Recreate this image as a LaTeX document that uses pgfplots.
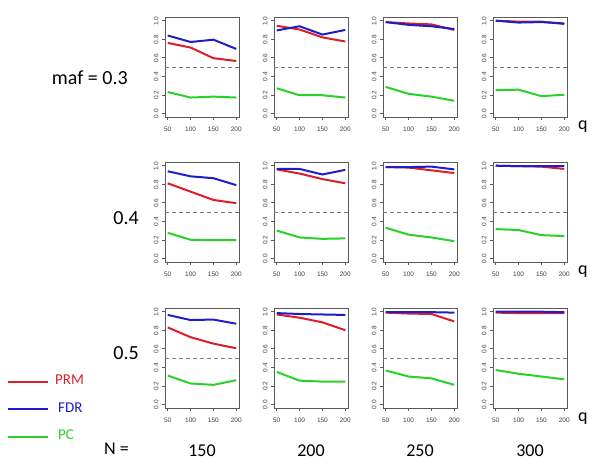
\documentclass[border=0pt]{standalone}
\usepackage{pgfplots}
\pgfplotsset{compat=1.18}
\usepackage{fontspec}
\setmainfont{Carlito}
\newfontfamily\tickfont{Liberation Sans}
\definecolor{prmred}{RGB}{220,30,40}
\definecolor{fdrblue}{RGB}{30,30,200}
\definecolor{pcgreen}{RGB}{40,210,40}
\definecolor{boxgray}{RGB}{90,90,90}
\pgfplotsset{panel/.style={
  width=74pt, height=100pt, scale only axis, anchor=south west,
  xmin=44, xmax=206, ymin=-0.04, ymax=1.04,
  xtick={50,100,150,200}, ytick={0,0.2,0.4,0.6,0.8,1.0},
  tick align=outside, xtick pos=bottom, ytick pos=left,
  major tick length=3pt,
  axis line style={boxgray, line width=0.6pt},
  tick style={boxgray, line width=0.5pt},
  /pgf/number format/assume math mode=true,
  ticklabel style={font=\tickfont\fontsize{6.5}{7.5}\selectfont, text=black!75},
  yticklabel style={rotate=90, anchor=south, xshift=-0.5pt, /pgf/number format/fixed, /pgf/number format/fixed zerofill, /pgf/number format/precision=1},
  xticklabel style={yshift=-3.5pt},
  clip=true,
}}
\newcommand\panel[5]{%
\begin{axis}[panel, at={(#1pt,#2pt)}]
\addplot[boxgray!80, dashed, dash pattern=on 4pt off 3pt, line width=0.8pt] coordinates {(44,0.5) (206,0.5)};
\addplot[prmred, line width=2pt] coordinates {#3};
\addplot[fdrblue, line width=2pt] coordinates {#4};
\addplot[pcgreen, line width=2pt] coordinates {#5};
\end{axis}}
\begin{document}
\begin{tikzpicture}
\path[use as bounding box] (0,0) rectangle (600pt,468pt);
% row 1 (maf = 0.3)
\panel{165}{351}{(50,0.76)(100,0.71)(150,0.595)(200,0.565)}{(50,0.84)(100,0.77)(150,0.795)(200,0.695)}{(50,0.23)(100,0.17)(150,0.18)(200,0.17)}
\panel{274}{351}{(50,0.945)(100,0.905)(150,0.82)(200,0.775)}{(50,0.895)(100,0.94)(150,0.85)(200,0.90)}{(50,0.27)(100,0.195)(150,0.195)(200,0.17)}
\panel{383}{351}{(50,0.985)(100,0.97)(150,0.96)(200,0.90)}{(50,0.985)(100,0.955)(150,0.94)(200,0.91)}{(50,0.285)(100,0.21)(150,0.18)(200,0.135)}
\panel{493}{351}{(50,1.0)(100,0.99)(150,0.99)(200,0.965)}{(50,1.0)(100,0.98)(150,0.985)(200,0.97)}{(50,0.25)(100,0.255)(150,0.185)(200,0.20)}
% row 2 (0.4)
\panel{165}{206}{(50,0.81)(100,0.72)(150,0.63)(200,0.595)}{(50,0.94)(100,0.885)(150,0.865)(200,0.79)}{(50,0.275)(100,0.20)(150,0.195)(200,0.195)}
\panel{274}{206}{(50,0.96)(100,0.915)(150,0.855)(200,0.81)}{(50,0.965)(100,0.965)(150,0.905)(200,0.955)}{(50,0.30)(100,0.225)(150,0.21)(200,0.215)}
\panel{383}{206}{(50,0.985)(100,0.98)(150,0.95)(200,0.92)}{(50,0.985)(100,0.985)(150,0.99)(200,0.96)}{(50,0.33)(100,0.255)(150,0.225)(200,0.185)}
\panel{493}{206}{(50,1.0)(100,0.995)(150,0.99)(200,0.965)}{(50,1.0)(100,0.995)(150,0.995)(200,0.995)}{(50,0.315)(100,0.305)(150,0.25)(200,0.24)}
% row 3 (0.5)
\panel{165}{60}{(50,0.83)(100,0.725)(150,0.655)(200,0.605)}{(50,0.965)(100,0.91)(150,0.915)(200,0.87)}{(50,0.31)(100,0.225)(150,0.21)(200,0.26)}
\panel{274}{60}{(50,0.97)(100,0.935)(150,0.885)(200,0.80)}{(50,0.985)(100,0.975)(150,0.97)(200,0.965)}{(50,0.35)(100,0.255)(150,0.245)(200,0.245)}
\panel{383}{60}{(50,0.99)(100,0.98)(150,0.975)(200,0.895)}{(50,0.995)(100,0.995)(150,0.995)(200,0.99)}{(50,0.365)(100,0.30)(150,0.28)(200,0.21)}
\panel{493}{60}{(50,0.99)(100,0.985)(150,0.985)(200,0.985)}{(50,1.0)(100,1.0)(150,1.0)(200,0.995)}{(50,0.37)(100,0.33)(150,0.30)(200,0.27)}
% row labels
\node[anchor=east, font=\fontsize{20}{24}\selectfont, inner sep=0pt] at (128pt,390pt) {maf = 0.3};
\node[anchor=east, font=\fontsize{20}{24}\selectfont, inner sep=0pt] at (139pt,250pt) {0.4};
\node[anchor=east, font=\fontsize{20}{24}\selectfont, inner sep=0pt] at (139pt,115pt) {0.5};
% q labels
\foreach \yy in {341,196,49} {\node[anchor=west, font=\fontsize{18}{22}\selectfont, inner sep=0pt] at (578pt,\yy pt) {q};}
% N labels
\node[anchor=east, font=\fontsize{18}{22}\selectfont, inner sep=0pt] at (129pt,19pt) {N =};
\node[font=\fontsize{18}{22}\selectfont, inner sep=0pt] at (202pt,17pt) {150};
\node[font=\fontsize{18}{22}\selectfont, inner sep=0pt] at (311pt,17pt) {200};
\node[font=\fontsize{18}{22}\selectfont, inner sep=0pt] at (420pt,17pt) {250};
\node[font=\fontsize{18}{22}\selectfont, inner sep=0pt] at (530pt,17pt) {300};
% legend
\draw[prmred, line width=2pt] (8pt,86pt) -- (48pt,86pt);
\draw[fdrblue, line width=2pt] (8pt,59pt) -- (48pt,59pt);
\draw[pcgreen, line width=2pt] (8pt,31pt) -- (48pt,31pt);
\node[anchor=west, text=prmred, font=\fontsize{15}{18}\selectfont, inner sep=0pt] at (55pt,88pt) {PRM};
\node[anchor=west, text=fdrblue, font=\fontsize{15}{18}\selectfont, inner sep=0pt] at (58pt,60pt) {FDR};
\node[anchor=west, text=pcgreen, font=\fontsize{15}{18}\selectfont, inner sep=0pt] at (58pt,33pt) {PC};
\end{tikzpicture}
\end{document}
